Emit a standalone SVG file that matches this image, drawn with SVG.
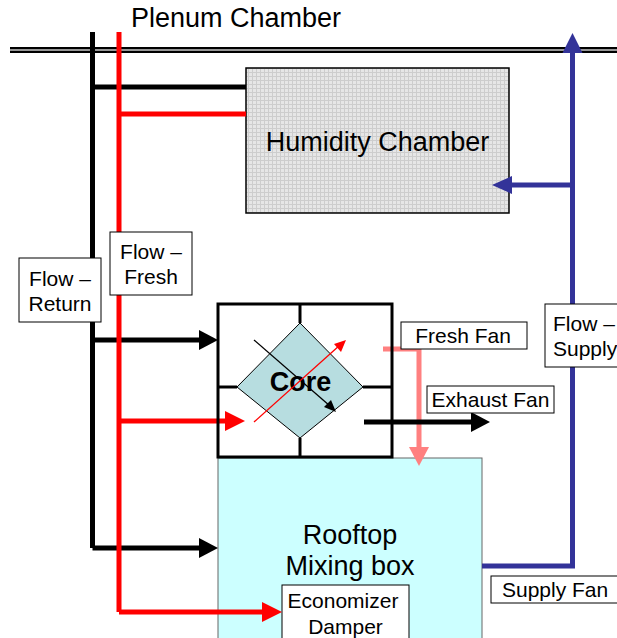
<svg xmlns="http://www.w3.org/2000/svg" width="617" height="638" viewBox="0 0 617 638">
<style>
text{font-family:"Liberation Sans",Arial,sans-serif;fill:#000}
.big{font-size:27px}
.lbl{font-size:21px}
.box{fill:#fff;stroke:#000;stroke-width:1}
.blk{stroke:#000;stroke-width:5;fill:none}
.red{stroke:#ff0000;stroke-width:5;fill:none}
.blu{stroke:#333399;stroke-width:5;fill:none}
.pnk{stroke:#ff8080;stroke-width:5;fill:none}
</style>
<defs>
<pattern id="grid" width="4" height="4" patternUnits="userSpaceOnUse">
<rect width="4" height="4" fill="#e6e6e6"/>
<path d="M0 0.5H4M0.5 0V4" stroke="#cdcdcd" stroke-width="1"/>
</pattern>
</defs>
<rect width="617" height="638" fill="#fff"/>
<g id="plenum">
<line x1="10" y1="50" x2="617" y2="50" stroke="#000" stroke-width="6"/>
<line x1="10" y1="50" x2="617" y2="50" stroke="#c8c8c8" stroke-width="1.5"/>
<text class="big" x="131" y="27">Plenum Chamber</text>
</g>
<g id="humidity">
<rect x="246" y="68" width="263" height="145" fill="url(#grid)" stroke="#000" stroke-width="1.5"/>
<text class="big" x="377.5" y="151" text-anchor="middle">Humidity Chamber</text>
</g>
<g id="rooftop">
<rect x="218" y="458" width="264" height="190" fill="#ccffff" stroke="#666" stroke-width="1"/>
<text class="big" x="350" y="544" text-anchor="middle">Rooftop</text>
<text class="big" x="350" y="575" text-anchor="middle">Mixing box</text>
</g>
<g id="economizer">
<rect class="box" x="282" y="585" width="127" height="60"/>
<text class="lbl" x="343" y="608" text-anchor="middle">Economizer</text>
<text class="lbl" x="345.5" y="634" text-anchor="middle">Damper</text>
</g>
<g id="connectors">
<polyline class="blk" points="92.5,32 92.5,548"/>
<line class="blk" x1="92.5" y1="87" x2="246" y2="87"/>
<line class="blk" x1="92.5" y1="340" x2="200" y2="340"/>
<polygon points="218,340 199,330 199,350" fill="#000"/>
<line class="blk" x1="92.5" y1="548" x2="200" y2="548"/>
<polygon points="218,548 199,538 199,558" fill="#000"/>
<polyline class="red" points="119,32 119,612"/>
<line class="red" x1="119" y1="114" x2="246" y2="114"/>
<line class="red" x1="119" y1="421" x2="227" y2="421"/>
<polygon points="245,421 225,411 225,431" fill="#ff0000"/>
<line class="red" x1="119" y1="612" x2="264" y2="612"/>
<polygon points="282,612 262,602 262,622" fill="#ff0000"/>
<polyline class="blu" points="482,566 572.5,566 572.5,50"/>
<polygon points="572.5,33 562.5,53 582.5,53" fill="#333399"/>
<line class="blu" x1="572.5" y1="185" x2="510" y2="185"/>
<polygon points="492,185 512,176 512,194" fill="#333399"/>
<polyline class="pnk" points="383,349 419,349 419,449"/>
<polygon points="419,466 409,447 429,447" fill="#ff8080"/>
<line class="blk" x1="364" y1="422" x2="473" y2="422"/>
<polygon points="490,422 471,412 471,432" fill="#000"/>
</g>
<g id="core">
<rect x="218" y="304" width="174" height="153" fill="none" stroke="#000" stroke-width="3"/>
<line x1="300" y1="304" x2="300" y2="323" stroke="#000" stroke-width="3"/>
<line x1="300" y1="438" x2="300" y2="457" stroke="#000" stroke-width="3"/>
<line x1="218" y1="387" x2="237" y2="387" stroke="#000" stroke-width="3"/>
<line x1="363" y1="387" x2="392" y2="387" stroke="#000" stroke-width="3"/>
<polygon points="300,323 363,387 300,438 237,387" fill="#b7dde0" stroke="#000" stroke-width="1"/>
<text x="300.5" y="391" text-anchor="middle" font-size="27" font-weight="bold">Core</text>
<line x1="254" y1="340" x2="330" y2="406" stroke="#000" stroke-width="1.3"/>
<polygon points="336,412 324,407 331,400" fill="#000"/>
<line x1="254" y1="422" x2="340" y2="345" stroke="#ff0000" stroke-width="1.3"/>
<polygon points="346,340 341,352 334,344" fill="#ff0000"/>
</g>
<g id="flow-return">
<rect class="box" x="19" y="258" width="82" height="64"/>
<text class="lbl" x="60" y="286" text-anchor="middle">Flow –</text>
<text class="lbl" x="60" y="311" text-anchor="middle">Return</text>
</g>
<g id="flow-fresh">
<rect class="box" x="110" y="232" width="82" height="63"/>
<text class="lbl" x="151" y="259" text-anchor="middle">Flow –</text>
<text class="lbl" x="151" y="284" text-anchor="middle">Fresh</text>
</g>
<g id="fresh-fan">
<rect class="box" x="401" y="322" width="126" height="27"/>
<text class="lbl" x="463" y="343" text-anchor="middle">Fresh Fan</text>
</g>
<g id="exhaust-fan">
<rect class="box" x="427" y="386" width="127" height="27"/>
<text class="lbl" x="490.5" y="407" text-anchor="middle">Exhaust Fan</text>
</g>
<g id="flow-supply">
<rect class="box" x="545" y="304" width="82" height="63"/>
<text class="lbl" x="553" y="331">Flow –</text>
<text class="lbl" x="553" y="356">Supply</text>
</g>
<g id="supply-fan">
<rect class="box" x="491" y="576" width="128" height="27"/>
<text class="lbl" x="502" y="597">Supply Fan</text>
</g>
</svg>
